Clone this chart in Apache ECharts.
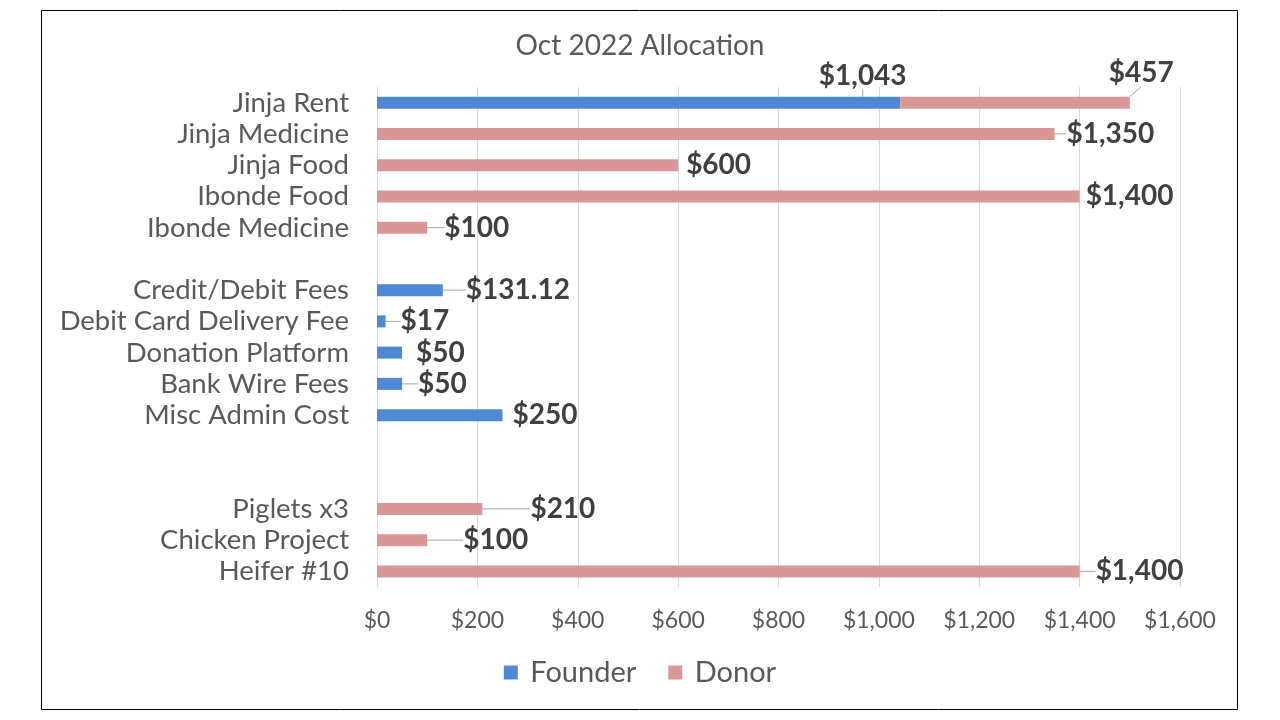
<!DOCTYPE html>
<html><head><meta charset="utf-8">
<script src="https://cdn.jsdelivr.net/npm/echarts@6/dist/echarts.min.js"></script>
<style>html,body{margin:0;padding:0;background:#fff}#c{width:1280px;height:720px}</style>
</head><body><div id="c"></div>
<script>
const categories = ['Jinja Rent','Jinja Medicine','Jinja Food','Ibonde Food','Ibonde Medicine',' ','Credit/Debit Fees','Debit Card Delivery Fee','Donation Platform','Bank Wire Fees','Misc Admin Cost','  ','   ','Piglets x3','Chicken Project','Heifer #10'];
const founder = [1043,null,null,null,null,null,131.12,17,50,50,250,null,null,null,null,null];
const donor = [457,1350,600,1400,100,null,null,null,null,null,null,null,null,210,100,1400];
const founderLabels = ['$1,043','','','','','','$131.12','$17','$50','$50','$250','','','','',''];
const donorLabels = ['$457','$1,350','$600','$1,400','$100','','','','','','','','','$210','$100','$1,400'];

// label placement, offsets and leader-line visibility (style only)
const founderPos = ['top','right','right','right','right','right','right','right','right','right','right','right','right','right','right','right'];
const founderDx = [224,0,0,0,0,0,15,7,6,8,2,0,0,0,0,0];
const founderDy = [1,0,0,0,0,0,0,0,0,0,0,0,0,0,0,0];
const founderLine = [true,false,false,false,false,false,true,true,false,true,false,false,false,false,false,false];
const donorDx = [-27,6,2,0,11,0,0,0,0,0,0,0,0,42,30,10];
const donorDy = [-30,0,0,0,0,0,0,0,0,0,0,0,0,0,0,0];
const donorLine = [true,true,false,false,true,false,false,false,false,false,false,false,false,true,true,true];

const chart = echarts.init(document.getElementById('c'));
const FONT = 'Lato';
const labelStyle = {fontFamily: FONT, fontWeight: 'bold', fontSize: 28, color: '#404040'};
const lineStyle = {color: '#a6a6a6', width: 1};
const build = (vals, lines, pos) => vals.map((v, i) => ({value: v,
  label: pos ? {position: pos[i]} : undefined,
  labelLine: {show: lines[i], lineStyle}}));
chart.setOption({
  animation: false,
  title: {text: 'Oct 2022 Allocation', left: 'center', top: 27,
    textStyle: {fontFamily: FONT, fontWeight: 'normal', fontSize: 28, color: '#595959'}},
  legend: {bottom: 28, left: 'center', itemWidth: 14, itemHeight: 14, itemGap: 32, icon: 'rect',
    formatter: n => ' ' + n,
    textStyle: {fontFamily: FONT, fontSize: 29, color: '#595959'}},
  grid: {left: 377, right: 100, top: 87, bottom: 133},
  xAxis: {type: 'value', min: 0, max: 1600, interval: 200,
    axisLine: {show: false}, axisTick: {show: false},
    splitLine: {lineStyle: {color: '#d9d9d9', width: 1}},
    axisLabel: {fontFamily: FONT, fontSize: 23, color: '#595959', margin: 22,
      formatter: v => '$' + v.toLocaleString('en-US')}},
  yAxis: {type: 'category', data: categories, inverse: true,
    axisLine: {show: false}, axisTick: {show: false},
    axisLabel: {interval: 0, fontFamily: FONT, fontSize: 27.5, color: '#595959', margin: 28}},
  series: [
    {name: 'Founder', type: 'bar', stack: 'a', data: build(founder, founderLine, founderPos), barWidth: 12,
      itemStyle: {color: '#4F88D4'},
      label: Object.assign({show: true, position: 'right', distance: 8,
        formatter: p => founderLabels[p.dataIndex]}, labelStyle),
      labelLayout: p => ({dx: founderDx[p.dataIndex], dy: founderDy[p.dataIndex]})
    },
    {name: 'Donor', type: 'bar', stack: 'a', data: build(donor, donorLine), barWidth: 12,
      itemStyle: {color: '#DA9694'},
      label: Object.assign({show: true, position: 'right', distance: 6,
        formatter: p => donorLabels[p.dataIndex]}, labelStyle),
      labelLayout: p => ({dx: donorDx[p.dataIndex], dy: donorDy[p.dataIndex]})
    }
  ],
  graphic: [{type: 'rect', shape: {x: 41.5, y: 10.5, width: 1196, height: 699},
    style: {fill: 'none', stroke: '#000', lineWidth: 1}, silent: true}]
});
</script></body></html>
